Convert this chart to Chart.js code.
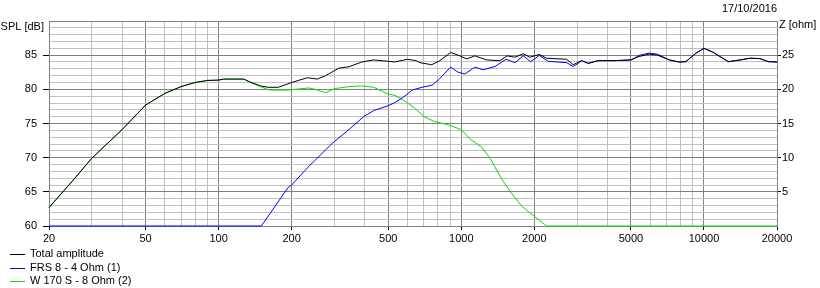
<!DOCTYPE html>
<html>
<head>
<meta charset="utf-8">
<script src="https://cdn.jsdelivr.net/npm/chart.js@4/dist/chart.umd.min.js"></script>
<style>
html,body{margin:0;padding:0;background:#fff;}
#wrap{width:820px;height:288px;position:relative;}
canvas{display:block;}
</style>
</head>
<body>
<div id="wrap"><canvas id="c" width="820" height="288"></canvas></div>
<script>
// ---- data ----
const totalFreq = [20,25,30,40,50,60,70,80,90,100,105,127,134,149,160,176,193,200,232,255,276,313,344,389,436,500,530,600,650,676,755,817,904,987,1052,1138,1271,1442,1546,1664,1800,1918,2096,2248,2719,2892,3132,3336,3667,4280,5000,5400,5940,6430,7200,7900,8420,9280,10000,10930,12600,14100,15500,17000,18400,20000];
const totalSpl  = [62.7,66.6,69.9,74.1,77.7,79.4,80.4,81.0,81.3,81.35,81.5,81.5,81.1,80.5,80.3,80.3,80.8,81.0,81.7,81.5,82.0,83.1,83.3,84.0,84.3,84.1,84.0,84.4,84.2,83.9,83.6,84.2,85.4,84.9,84.45,84.9,84.3,84.2,84.9,84.7,85.2,84.7,85.1,84.55,84.4,83.6,84.2,83.8,84.2,84.2,84.3,84.8,85.15,85.0,84.3,84.0,84.05,85.3,86.0,85.4,84.05,84.3,84.55,84.5,84.05,84.0];

const frsFreq = [20,150,193,200,232,294,344,396,436,500,535,585,627,689,757,811,904,971,1035,1138,1232,1377,1529,1664,1800,1932,2096,2282,2719,2892,3035,3132,3336,3667,4280,5000,5400,5940,6430,7200,7900,8420,9280,10000,10930,12600,14100,15500,17000,18400,20000];
const frsSpl  = [60,60,65.6,66.0,68.5,72.1,74.1,76.0,76.9,77.6,78.1,79.0,79.9,80.3,80.6,81.5,83.25,82.5,82.25,83.25,82.85,83.35,84.4,83.9,84.9,84.05,84.95,84.1,83.9,83.35,83.8,84.2,83.8,84.2,84.2,84.3,84.95,85.3,85.15,84.3,84.0,84.05,85.3,86.0,85.4,84.05,84.3,84.55,84.5,84.05,84.0];

const wooferFreq = [20,25,30,40,50,60,70,80,90,100,105,127,134,149,161,194,235,250,276,300,344,389,436,500,535,585,640,704,773,885,1000,1097,1210,1315,1460,1585,1775,2000,2250,20000];
const wooferSpl  = [62.7,66.6,69.9,74.1,77.7,79.4,80.4,81.0,81.3,81.35,81.5,81.5,81.1,80.4,79.9,79.9,80.2,80.0,79.5,80.1,80.4,80.5,80.3,79.3,79.1,78.3,77.3,76.0,75.3,74.8,74.1,72.6,71.6,69.9,67.0,65.1,62.9,61.4,60.0,60.0];

const seriesLabels = ['Total amplitude','FRS 8 - 4 Ohm (1)','W 170 S - 8 Ohm (2)'];
const seriesColors = ['#000000','#0000ff','#00dd00'];

const xGridValues = [20,30,40,50,60,70,80,90,100,200,300,400,500,600,700,800,900,1000,2000,3000,4000,5000,6000,7000,8000,9000,10000,20000];
const xLabelValues = [20,50,100,200,500,1000,2000,5000,10000,20000];
const splLabelValues = [60,65,70,75,80,85];
const zLabelValues = [5,10,15,20,25];
const leftTitle = 'SPL [dB]';
const rightTitle = 'Z [ohm]';
const dateText = '17/10/2016';

// ---- styling ----
const FONT = '"Liberation Sans", Arial, sans-serif';
const DARK = '#808080';
const LIGHT = '#c0c0c0';

function pts(f, v){ return f.map((x,i)=>({x:x, y:v[i]})); }

const overlay = {
  id:'overlay',
  afterDraw(chart){
    const ctx = chart.ctx;
    ctx.save();
    ctx.font = '11px ' + FONT;
    ctx.fillStyle = '#000';
    ctx.textBaseline = 'middle';
    ctx.textAlign = 'right';
    ctx.fillText(leftTitle, 44, 26.5);
    ctx.textAlign = 'left';
    ctx.fillText(rightTitle, 779, 25);
    ctx.textAlign = 'right';
    ctx.fillText(dateText, 777, 9);
    ctx.textAlign = 'left';
    chart.data.datasets.forEach((ds, i) => {
      const y = 254 + i * 13.5;
      const ly = Math.round(y) + 0.5;
      ctx.strokeStyle = ds.borderColor;
      ctx.lineWidth = 1;
      ctx.beginPath();
      ctx.moveTo(10, ly);
      ctx.lineTo(25, ly);
      ctx.stroke();
      ctx.fillText(ds.label, 30, y);
    });
    ctx.restore();
  }
};

new Chart(document.getElementById('c'), {
  type: 'line',
  data: {
    datasets: [
      {label: seriesLabels[0], data: pts(totalFreq, totalSpl), borderColor: seriesColors[0]},
      {label: seriesLabels[1], data: pts(frsFreq, frsSpl), borderColor: seriesColors[1]},
      {label: seriesLabels[2], data: pts(wooferFreq, wooferSpl), borderColor: seriesColors[2]}
    ].map(d => Object.assign(d, {borderWidth:1, pointRadius:0, tension:0, fill:false, yAxisID:'y', clip:3}))
  },
  options: {
    responsive: false,
    animation: false,
    devicePixelRatio: 1,
    layout: {padding: {top: 21, left: 0, right: 0, bottom: 0}},
    plugins: {legend: {display: false}, tooltip: {enabled: false}},
    scales: {
      x: {
        type: 'logarithmic', position: 'bottom', min: 20, max: 20000,
        afterBuildTicks(s){ s.ticks = xGridValues.map(v => ({value: v})); },
        afterFit(s){ s.height = 62; },
        border: {display: true, color: DARK},
        grid: {
          color: c => xLabelValues.includes(c.tick && c.tick.value) ? DARK : LIGHT,
          tickColor: c => xLabelValues.includes(c.tick && c.tick.value) ? '#000' : 'rgba(0,0,0,0)',
          tickLength: 4, lineWidth: 1
        },
        ticks: {
          autoSkip: false, maxRotation: 0, padding: 2, color: '#000',
          font: {family: FONT, size: 11},
          callback: v => xLabelValues.includes(v) ? String(v) : ''
        }
      },
      y: {
        type: 'linear', position: 'left', min: 60, max: 90,
        afterBuildTicks(s){ const t=[]; for (let v=60; v<=90; v++) t.push({value:v}); s.ticks = t; },
        afterFit(s){ s.width = 49; },
        border: {display: true, color: DARK},
        grid: {
          color: c => (c.tick && c.tick.value % 5 === 0) ? DARK : LIGHT,
          tickColor: c => (c.tick && splLabelValues.includes(c.tick.value)) ? '#000' : 'rgba(0,0,0,0)',
          tickLength: 6, lineWidth: 1
        },
        ticks: {
          autoSkip: false, padding: 6, color: '#000',
          font: {family: FONT, size: 11},
          callback: v => splLabelValues.includes(v) ? String(v) : ''
        }
      },
      y2: {
        type: 'linear', position: 'right', min: 0, max: 30,
        afterBuildTicks(s){ s.ticks = [0,5,10,15,20,25,30].map(v => ({value:v})); },
        afterFit(s){ s.width = 43; },
        border: {display: true, color: DARK},
        grid: {
          drawOnChartArea: false,
          tickColor: c => (c.tick && zLabelValues.includes(c.tick.value)) ? '#000' : 'rgba(0,0,0,0)',
          tickLength: 4
        },
        ticks: {
          autoSkip: false, padding: 1, color: '#000',
          font: {family: FONT, size: 11},
          callback: v => zLabelValues.includes(v) ? String(v) : ''
        }
      }
    }
  },
  plugins: [overlay]
});
</script>
</body>
</html>
